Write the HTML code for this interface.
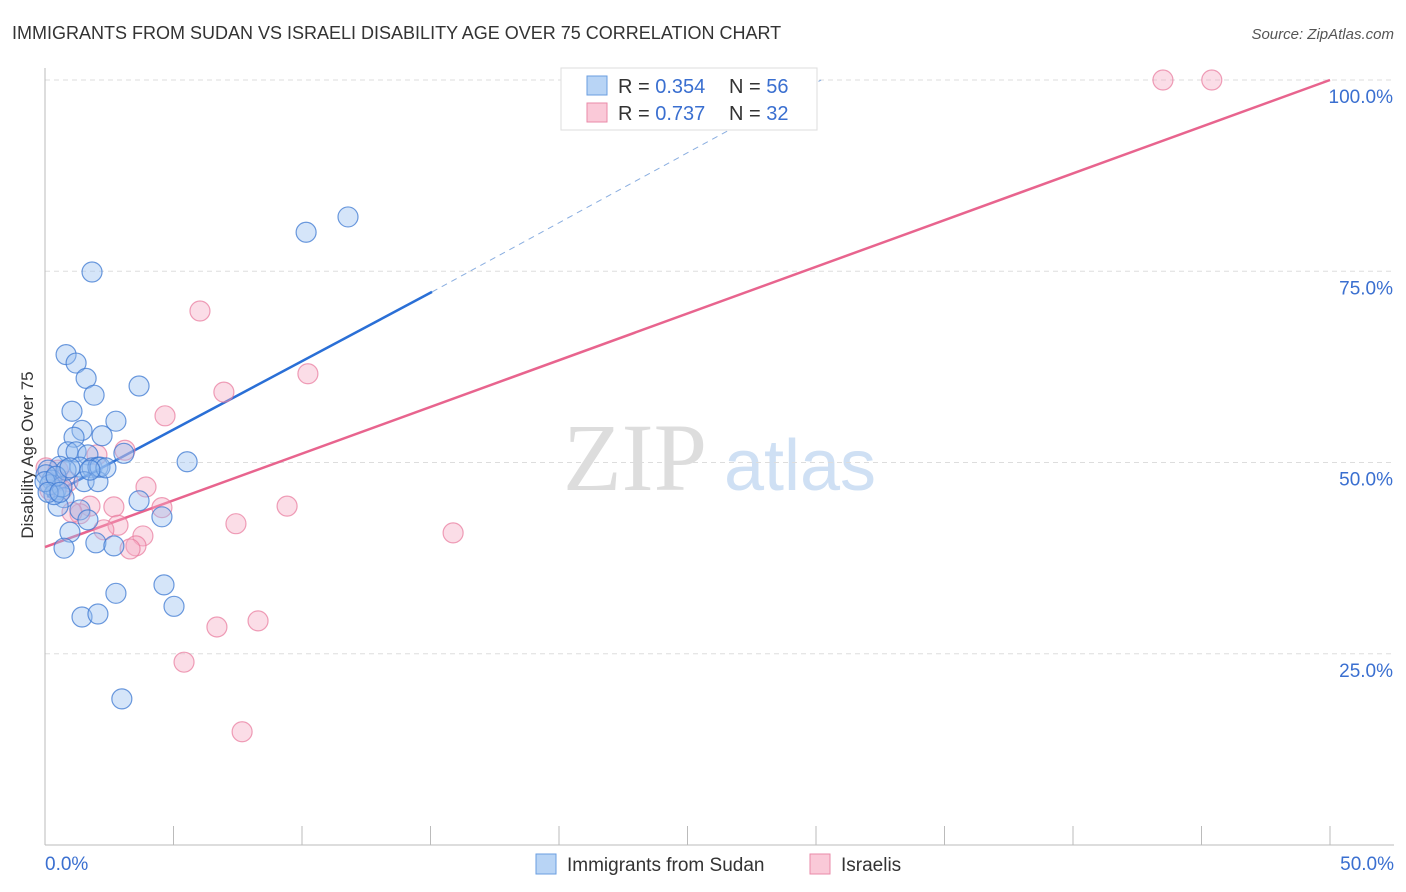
<!DOCTYPE html>
<html><head><meta charset="utf-8"><style>
body{margin:0;background:#fff;font-family:"Liberation Sans",sans-serif;}
svg{display:block}
</style></head><body>
<svg id="chart" width="1406" height="892">
<text x="12" y="39" font-size="18" fill="#333">IMMIGRANTS FROM SUDAN VS ISRAELI DISABILITY AGE OVER 75 CORRELATION CHART</text>
<text x="1394" y="39" font-size="15" fill="#555" font-style="italic" text-anchor="end">Source: ZipAtlas.com</text>
<text x="0" y="0" transform="translate(33,455) rotate(-90)" font-size="17" fill="#333" text-anchor="middle">Disability Age Over 75</text>
<g>
<text x="635" y="490" font-size="96" fill="#ddd" font-family="Liberation Serif,serif" text-anchor="middle">ZIP</text>
<text x="800" y="490" font-size="72" fill="#cfe0f4" text-anchor="middle">atlas</text>
</g>
<g id="grid"></g>
<g id="axes"></g>
<g id="lines"></g>
<g id="pts"></g>
<g>
<rect x="561" y="68" width="256" height="62" fill="#fff" stroke="#ddd"/>
<rect x="587" y="76" width="20" height="19" fill="#b8d4f5" stroke="#6a9ee0"/>
<rect x="587" y="103" width="20" height="19" fill="#fac9d8" stroke="#ea8aa8"/>
<text x="618" y="93" font-size="20" fill="#333">R = <tspan fill="#3a6fd0">0.354</tspan></text>
<text x="729" y="93" font-size="20" fill="#333">N = <tspan fill="#3a6fd0">56</tspan></text>
<text x="618" y="120" font-size="20" fill="#333">R = <tspan fill="#3a6fd0">0.737</tspan></text>
<text x="729" y="120" font-size="20" fill="#333">N = <tspan fill="#3a6fd0">32</tspan></text>
</g>
<g>
<rect x="536" y="854" width="20" height="20" fill="#b8d4f5" stroke="#6a9ee0"/>
<text x="567" y="871" font-size="19" fill="#333">Immigrants from Sudan</text>
<rect x="810" y="854" width="20" height="20" fill="#fac9d8" stroke="#ea8aa8"/>
<text x="841" y="871" font-size="19" fill="#333">Israelis</text>
</g>
</svg>
<script>
const yTicks=[100,75,50,25];
const yTickLabels=["100.0%","75.0%","50.0%","25.0%"];
const xTickLabels=["0.0%","50.0%"];
const sudanX=[1.83,10.16,11.79,0.82,1.21,1.60,1.91,3.66,1.05,2.76,1.44,1.13,2.22,3.07,0.89,1.21,1.67,5.53,1.36,1.83,2.06,0.58,0.12,0.27,1.52,2.06,0.43,0.74,3.66,0.51,1.36,1.67,4.55,0.97,1.98,0.74,2.68,4.63,2.76,5.02,1.44,2.06,2.99,0.04,0.19,0.35,0.66,0.82,2.14,2.37,0,0.43,0.12,0.58,0.97,1.75];
const sudanY=[74.9,80.1,82.1,64.1,63.0,61.0,58.8,60.0,56.7,55.4,54.2,53.3,53.5,51.2,51.4,51.4,51.0,50.1,49.4,49.3,49.4,49.5,49.0,47.7,47.5,47.5,46.4,45.4,45.0,44.3,43.8,42.5,42.9,40.9,39.5,38.8,39.1,34.0,32.9,31.2,29.8,30.2,19.1,48.4,47.1,45.8,46.8,49.0,49.4,49.3,47.5,48.2,46.1,46.1,49.3,49.0];
const israelX=[43.5,45.4,6.03,10.23,6.96,4.67,3.11,2.02,3.93,0.89,1.75,2.68,4.55,9.42,1.36,7.43,2.84,2.29,3.81,3.54,3.31,15.88,6.69,8.29,5.41,7.67,0.43,0.19,0.66,1.05,0.04,0.51];
const israelY=[100,100,69.8,61.6,59.2,56.1,51.6,51.0,46.8,47.5,44.3,44.2,44.1,44.3,43.3,42.0,41.8,41.2,40.4,39.1,38.7,40.8,28.5,29.3,23.9,14.8,47.7,46.4,46.4,43.5,49.3,49.0];
const sudanLine=[[0.08,45.5],[15.06,72.3]];
const sudanLineExt=[[15.06,72.3],[30.2,100]];
const israelLine=[[0,38.95],[50,100]];
const X=v=>45+v*25.7, Y=v=>845-v*7.65;
const NS="http://www.w3.org/2000/svg";
function mk(t,a,p){const e=document.createElementNS(NS,t);for(const k in a)e.setAttribute(k,a[k]);document.getElementById(p).appendChild(e);return e;}
yTicks.forEach((t,i)=>{
 const g=mk('line',{x1:45,x2:1394,y1:Y(t),y2:Y(t),stroke:'#ddd','stroke-dasharray':'5,4'},'grid');
 
 
 const l=mk('text',{x:1393,y:Y(t)+23,'font-size':19,fill:'#3a6fd0','text-anchor':'end'},'axes');
 l.textContent=yTickLabels[i];
 
 
});
mk('line',{x1:45,x2:45,y1:68,y2:845,stroke:'#bbb'},'axes');
mk('line',{x1:45,x2:1394,y1:845,y2:845,stroke:'#bbb'},'axes');
for(let i=0;i<=10;i++){mk('line',{x1:X(i*5),x2:X(i*5),y1:826,y2:845,stroke:'#bbb'},'axes');}
[[0,45,'start'],[50,1394,'end']].forEach((d,i)=>{
 const l=mk('text',{x:d[1],y:870,'font-size':19,fill:'#3a6fd0','text-anchor':d[2]},'axes');
 l.textContent=xTickLabels[i];
 
 
});
let ln=mk('line',{x1:X(sudanLine[0][0]),y1:Y(sudanLine[0][1]),x2:X(sudanLine[1][0]),y2:Y(sudanLine[1][1]),stroke:'#2a6fd6','stroke-width':2.5},'lines');


ln=mk('line',{x1:X(sudanLineExt[0][0]),y1:Y(sudanLineExt[0][1]),x2:X(sudanLineExt[1][0]),y2:Y(sudanLineExt[1][1]),stroke:'#8aaee0','stroke-width':1,'stroke-dasharray':'6,5'},'lines');


ln=mk('line',{x1:X(israelLine[0][0]),y1:Y(israelLine[0][1]),x2:X(israelLine[1][0]),y2:Y(israelLine[1][1]),stroke:'#e8648e','stroke-width':2.5},'lines');


israelX.forEach((x,i)=>{
 const c=mk('circle',{cx:X(x),cy:Y(israelY[i]),r:10,fill:'rgba(246,170,195,0.4)',stroke:'rgba(232,120,155,0.7)','stroke-width':1.2},'pts');
 
 
});
sudanX.forEach((x,i)=>{
 const c=mk('circle',{cx:X(x),cy:Y(sudanY[i]),r:10,fill:'rgba(150,190,240,0.4)',stroke:'rgba(60,120,210,0.75)','stroke-width':1.2},'pts');
 
 
});
</script>
</body></html>
